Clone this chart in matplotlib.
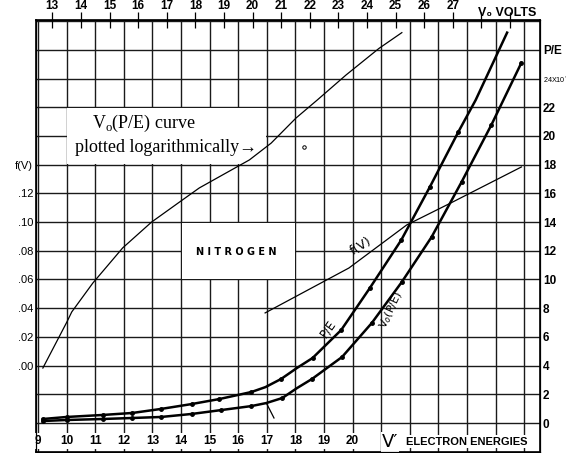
import numpy as np
import matplotlib
matplotlib.use('Agg')
import matplotlib.pyplot as plt
from matplotlib.patches import Rectangle

# electron energies V' (bottom axis) and V0 volts (top axis)
v_prime_labels = ['9', '10', '11', '12', '13', '14', '15', '16', '17', '18', '19', '20']
v0_ticks = [13, 14, 15, 16, 17, 18, 19, 20, 21, 22, 23, 24, 25, 26, 27, 28, 29]
v0_shift = 3.5  # V0 = V' + 3.5

# P/E curve (ionization efficiency), x = V'
pe_x = [9.17, 10.0, 11.26, 12.3, 13.3, 14.37, 15.34, 16.46, 16.95, 17.5, 18.05,
        18.6, 19.6, 20.6, 21.7, 22.7, 23.7, 24.3, 25.4]
pe_y = [0.28, 0.42, 0.56, 0.7, 0.98, 1.32, 1.67, 2.16, 2.5, 3.07, 3.83,
        4.53, 6.48, 9.4, 12.75, 16.45, 20.3, 22.5, 27.2]
pe_dots = [0, 1, 2, 3, 4, 5, 6, 7, 9, 11, 12, 13, 14, 15, 16]

# V0(P/E) curve, x = V'
vpe_x = [9.17, 10.0, 11.26, 12.3, 13.3, 14.37, 15.4, 16.46, 16.98, 17.54, 18.06,
         18.58, 19.63, 20.67, 21.72, 22.76, 23.81, 24.85, 25.9]
vpe_y = [0.14, 0.21, 0.28, 0.35, 0.42, 0.63, 0.9, 1.18, 1.39, 1.74, 2.44,
         3.07, 4.6, 6.97, 9.83, 12.96, 16.8, 20.77, 25.1]
vpe_dots = [0, 1, 2, 3, 4, 5, 6, 7, 9, 11, 12, 13, 14, 15, 16, 17, 18]

# V0(P/E) plotted logarithmically, x = V0 volts (top axis), y on grid units
vlog_x = [12.67, 13.51, 13.68, 14.42, 15.46, 16.47, 17.45, 18.14, 19.89,
          20.65, 21.52, 22.26, 23.27, 24.42, 25.22]
vlog_y = [3.83, 7.04, 7.74, 9.76, 12.2, 14.0, 15.4, 16.38, 18.33,
          19.5, 21.25, 22.5, 24.25, 26.1, 27.2]

# f(V), x = V', y = f
f_x = [16.94, 19.87, 21.89, 23.43, 25.9]
f_y = [0.0367, 0.068, 0.098, 0.1133, 0.1384]
f_ticks = [0.0, 0.02, 0.04, 0.06, 0.08, 0.10, 0.12, 0.14]
f_labels = ['.00', '.02', '.04', '.06', '.08', '.10', '.12', 'f(V)']

pe_ticks = [0, 2, 4, 6, 8, 10, 12, 14, 16, 18, 20, 22, 24, 26]
pe_labels = ['0', '2', '4', '6', '8', '10', '12', '14', '16', '18', '20', '22',
             '24X10$^{\'}$', 'P/E']

xlo, xhi = 8.93, 26.55
ylo, yhi = -2.02, 28.08
lab_font = 'Liberation Sans'
grid_col = '#1a1a1a'

fig = plt.figure(figsize=(5.67, 4.53), dpi=100)
ax = fig.add_axes([36 / 567, 1 - 452 / 453, 504 / 567, 432 / 453])
ax.set_xlim(xlo, xhi)
ax.set_ylim(ylo, yhi)

# twins first (twinx / twiny reset the tick sides of the main axes)
ax_top = ax.twiny()
ax_f = ax.twinx()

ax.set_xticks(np.arange(9, 27))
ax.set_xticklabels([])
ax.tick_params(axis='x', length=0)
ax.set_yticks(pe_ticks)
ax.set_yticklabels(pe_labels)
for s in ax.spines.values():
    s.set_linewidth(1.2)

# grid drawn explicitly
ax.vlines(np.arange(9, 27), ylo, yhi, colors=grid_col, lw=1.0, zorder=0.8)
ax.hlines(np.arange(0, 29, 2), xlo, xhi, colors=grid_col, lw=1.0, zorder=0.8)

# white label boxes hide the grid
ax.add_patch(Rectangle((10.03, 18.06), 6.94, 3.88, facecolor='white', edgecolor='none', zorder=1))
ax.add_patch(Rectangle((14.03, 10.06), 3.94, 3.88, facecolor='white', edgecolor='none', zorder=1))

# bottom labels drawn inside the frame
for i, lab in enumerate(v_prime_labels):
    ax.text(9 + i, -1.25, lab, ha='center', va='center', fontsize=8.5, fontweight='bold',
            family=lab_font,
            bbox=dict(boxstyle='square,pad=0.15', facecolor='white', edgecolor='none'), zorder=3)
ax.text(21.3, -1.35, 'V\u2032', ha='center', va='center', fontsize=13,
        bbox=dict(boxstyle='square,pad=0.05', facecolor='white', edgecolor='none'), zorder=3)
ax.text(21.85, -1.3, 'ELECTRON ENERGIES', ha='left', va='center', fontsize=8,
        fontweight='bold', family=lab_font,
        bbox=dict(boxstyle='square,pad=0.15', facecolor='white', edgecolor='none'), zorder=3)

# thick curves
ax.plot(pe_x, pe_y, color='black', lw=1.8, marker='o', ms=2.5, markevery=pe_dots, zorder=4)
ax.plot(vpe_x, vpe_y, color='black', lw=1.8, marker='o', ms=2.5, markevery=vpe_dots, zorder=4)
ax.plot([16.98, 17.25], [1.4, 0.35], color='black', lw=0.9, zorder=4)

ax.text(19.15, 6.6, 'P/E', rotation=55, ha='center', va='center', fontsize=8.5, zorder=5)
ax.text(21.35, 7.9, 'V$_o$(P/E)', rotation=65, ha='center', va='center', fontsize=8, zorder=5)
ax.text(20.3, 12.3, 'f(V)', rotation=32, ha='center', va='center', fontsize=9, zorder=5)
ax.text(15.93, 11.9, 'N I T R O G E N', ha='center', va='center', fontsize=7,
        fontweight='bold', zorder=5)
ax.text(12.7, 20.9, 'V$_\\mathregular{o}$(P/E) curve', ha='center', va='center', fontsize=13,
        family='Liberation Serif', zorder=5)
ax.text(10.3, 19.2, 'plotted logarithmically\u2192', ha='left', va='center', fontsize=13,
        family='Liberation Serif', zorder=5)
ax.plot([18.3], [19.2], marker='o', ms=2.5, mfc='white', mec='black', mew=0.7, zorder=5)

# top axis: V0 volts
ax_top.set_xlim(xlo + v0_shift, xhi + v0_shift)
ax_top.set_xticks(v0_ticks)
ax_top.set_xticklabels([str(v) if v <= 27 else '' for v in v0_ticks])
ax_top.tick_params(axis='x', direction='inout', length=12, width=0.9, pad=0, labelsize=8.5)
for t in ax_top.get_xticklabels():
    t.set_fontweight('bold')
    t.set_family(lab_font)
ax_top.plot(vlog_x, vlog_y, color='black', lw=0.9, zorder=4)
fig.text(0.894, 0.972, 'V\u2080 VOLTS', ha='center', va='center', fontsize=9,
         fontweight='bold', family=[lab_font, 'DejaVu Sans'])

# left axis: f(V)
ax_f.set_ylim((ylo - 4) / 100, (yhi - 4) / 100)
ax_f.set_yticks(f_ticks)
ax_f.set_yticklabels(f_labels)
ax_f.yaxis.tick_left()
ax_f.tick_params(axis='y', length=0, pad=2, labelsize=8)
for t in ax_f.get_yticklabels():
    t.set_family(lab_font)
ax_f.plot(f_x, f_y, color='black', lw=0.9, zorder=4)

# right axis: P/E
ax.yaxis.tick_right()
ax.tick_params(axis='y', length=0, pad=2, labelsize=8.5)
for t in ax.get_yticklabels():
    t.set_fontweight('bold')
    t.set_family(lab_font)
ax.get_yticklabels()[12].set_fontsize(5.2)
ax.get_yticklabels()[12].set_fontweight('normal')

fig.savefig('out.png', dpi=100)
